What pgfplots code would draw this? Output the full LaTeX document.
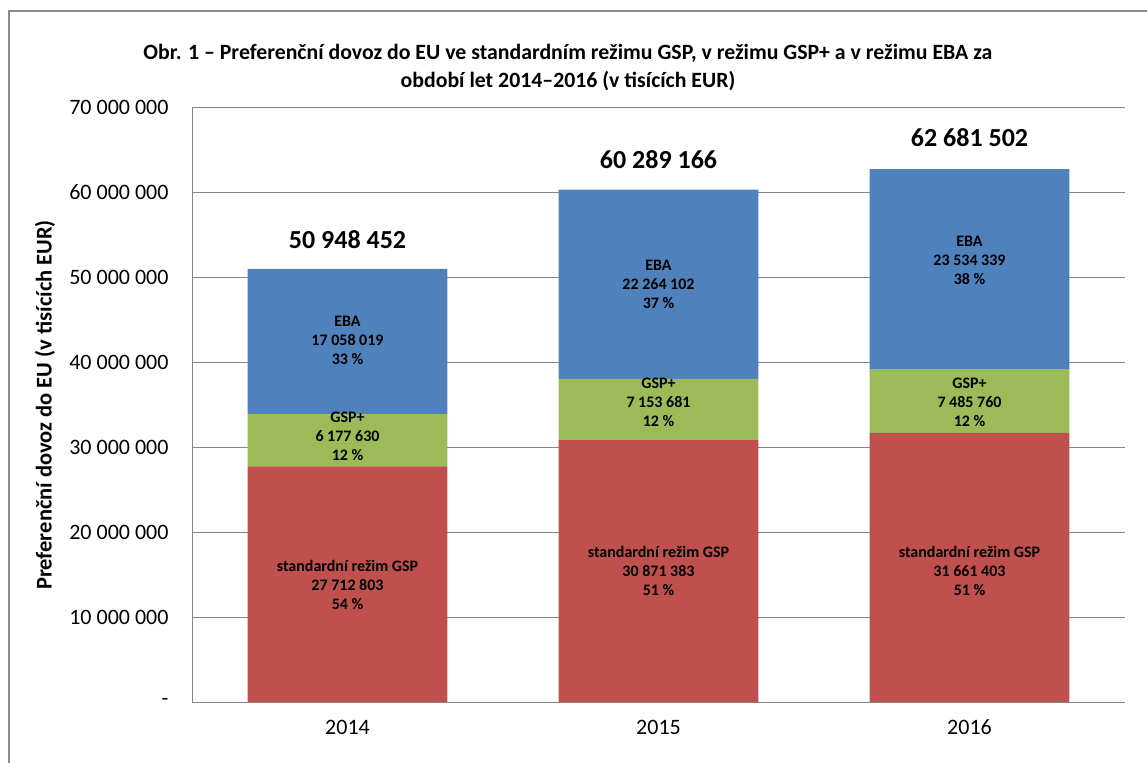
\documentclass[border=0pt]{standalone}
\usepackage{fontspec}
\setmainfont{Carlito}
\usepackage{pgfplots}
\pgfplotsset{compat=1.18}
\definecolor{cRed}{HTML}{C0504D}
\definecolor{cGreen}{HTML}{9BBB59}
\definecolor{cBlue}{HTML}{4F81BD}
\definecolor{cGrid}{HTML}{868686}
\definecolor{cFrame}{HTML}{8C8C8C}
\begin{document}
\begin{tikzpicture}[x=1pt,y=1pt]
\path[use as bounding box] (0,0) rectangle (1147,762);
\draw[cFrame, line width=1.2pt] (9,-5) -- (9,751) -- (1160,751);
\begin{axis}[
  at={(192pt,60pt)}, anchor=south west,
  scale only axis, width=933pt, height=595pt,
  ybar stacked, bar width=0.643,
  xmin=-0.5, xmax=2.5, ymin=0, ymax=70000000,
  xtick={0,1,2}, xticklabels={2014,2015,2016},
  ytick={0,10000000,20000000,30000000,40000000,50000000,60000000,70000000},
  yticklabels={-,10 000 000,20 000 000,30 000 000,40 000 000,50 000 000,60 000 000,70 000 000},
  scaled y ticks=false,
  major tick length=0pt,
  ymajorgrids, grid style={cGrid, line width=0.9pt},
  axis x line*=bottom, axis y line*=left,
  axis line style={cGrid, line width=0.9pt, -},
  tick label style={font=\fontsize{22}{26}\selectfont, text=black},
  yticklabel style={xshift=-20pt},
  xticklabel style={yshift=-15pt, text height=14pt, text depth=1pt},
  clip=false,
]
\addplot[fill=cRed, draw=none] coordinates {(0,27712803) (1,30871383) (2,31661403)};
\addplot[fill=cGreen, draw=none] coordinates {(0,6177630) (1,7153681) (2,7485760)};
\addplot[fill=cBlue, draw=none] coordinates {(0,17058019) (1,22264102) (2,23534339)};
\coordinate (r0) at (axis cs:0,13760000);
\coordinate (r1) at (axis cs:1,15400000);
\coordinate (r2) at (axis cs:2,15400000);
\coordinate (g0) at (axis cs:0,31300000);
\coordinate (g1) at (axis cs:1,35200000);
\coordinate (g2) at (axis cs:2,35200000);
\coordinate (b0) at (axis cs:0,42600000);
\coordinate (b1) at (axis cs:1,49100000);
\coordinate (b2) at (axis cs:2,52000000);
\coordinate (t0) at (axis cs:0,54350000);
\coordinate (t1) at (axis cs:1,63800000);
\coordinate (t2) at (axis cs:2,66350000);
\end{axis}
\tikzset{seg/.style={font=\fontsize{16}{19}\selectfont\bfseries, align=center, text=black, inner sep=0pt},
 tot/.style={font=\fontsize{26}{30}\selectfont\bfseries, text=black, inner sep=0pt}}
\node[seg] at (r0) {standardní režim GSP\\27 712 803\\54 \%};
\node[seg] at (r1) {standardní režim GSP\\30 871 383\\51 \%};
\node[seg] at (r2) {standardní režim GSP\\31 661 403\\51 \%};
\node[seg] at (g0) {GSP+\\6 177 630\\12 \%};
\node[seg] at (g1) {GSP+\\7 153 681\\12 \%};
\node[seg] at (g2) {GSP+\\7 485 760\\12 \%};
\node[seg] at (b0) {EBA\\17 058 019\\33 \%};
\node[seg] at (b1) {EBA\\22 264 102\\37 \%};
\node[seg] at (b2) {EBA\\23 534 339\\38 \%};
\node[tot] at (t0) {50 948 452};
\node[tot] at (t1) {60 289 166};
\node[tot] at (t2) {62 681 502};
\node[font=\fontsize{21.8}{28}\selectfont\bfseries, align=center, inner sep=0pt] at (568,694) {Obr. 1 – Preferenční dovoz do EU ve standardním režimu GSP, v režimu GSP+ a v režimu EBA za\\období let 2014–2016 (v tisících EUR)};
\node[font=\fontsize{22.5}{26}\selectfont\bfseries, rotate=90, inner sep=0pt] at (45,357) {Preferenční dovoz do EU (v tisících EUR)};
\end{tikzpicture}
\end{document}
